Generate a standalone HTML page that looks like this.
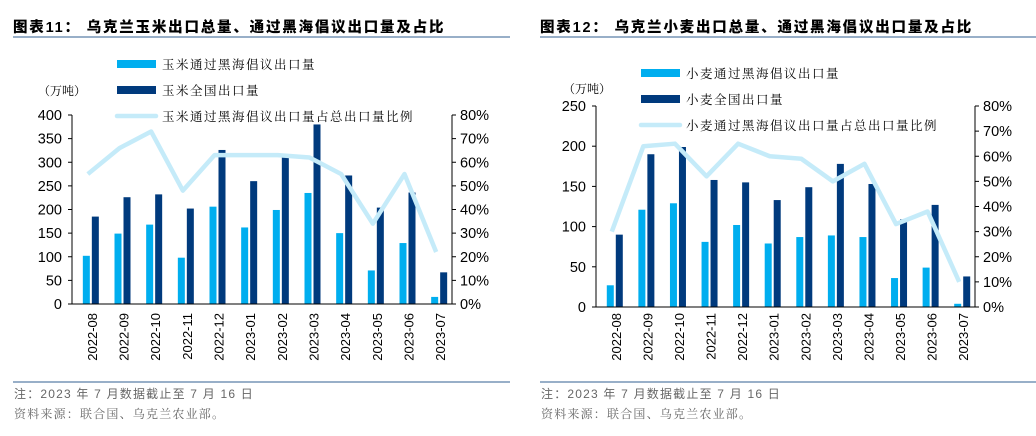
<!DOCTYPE html>
<html><head><meta charset="utf-8"><style>
body{margin:0;background:#fff;width:1036px;height:436px;overflow:hidden}
svg{display:block}
text{font-family:"Liberation Sans","Noto Sans CJK SC",sans-serif}
.cn{font-family:"Noto Serif CJK SC","Liberation Serif",serif}
</style></head><body>
<svg id="s" width="1036" height="436" xmlns="http://www.w3.org/2000/svg">
<text x="13" y="32" font-size="14.5" font-weight="900" letter-spacing="1.8" fill="#000">图表11：  乌克兰玉米出口总量、通过黑海倡议出口量及占比</text>
<line x1="13" y1="37" x2="510" y2="37" stroke="#5b7fa6" stroke-width="1.2"/>
<text x="540" y="32" font-size="14.5" font-weight="900" letter-spacing="1.8" fill="#000">图表12：  乌克兰小麦出口总量、通过黑海倡议出口量及占比</text>
<line x1="540" y1="37" x2="1036" y2="37" stroke="#5b7fa6" stroke-width="1.2"/>
<line x1="13" y1="382" x2="510" y2="382" stroke="#5b7fa6" stroke-width="1.2"/>
<line x1="540" y1="382" x2="1036" y2="382" stroke="#5b7fa6" stroke-width="1.2"/>
<g font-size="12" fill="#666" letter-spacing="1.2">
<text x="14" y="398">注：2023 年 7 月数据截止至 7 月 16 日</text>
<text x="14" y="418" class="cn">资料来源：联合国、乌克兰农业部。</text>
<text x="541" y="398">注：2023 年 7 月数据截止至 7 月 16 日</text>
<text x="541" y="418" class="cn">资料来源：联合国、乌克兰农业部。</text>
</g>
<g id="g"></g>
</svg>
<script>
const NS="http://www.w3.org/2000/svg",g=document.getElementById('g');
function el(t,a,txt){const e=document.createElementNS(NS,t);for(const k in a)e.setAttribute(k,a[k]);if(txt!==undefined)e.textContent=txt;g.appendChild(e);return e;}
const cats=["2022-08","2022-09","2022-10","2022-11","2022-12","2023-01","2023-02","2023-03","2023-04","2023-05","2023-06","2023-07"];
function chart(o){
 const {x0,x1,y0,yTop,max,step,light,dark,pct}=o;
 const cw=(x1-x0)/12,sc=(y0-yTop)/max;
 for(let i=0;i<12;i++){const c=x0+cw*(i+0.5);
  el('rect',{x:c-5,y:y0-light[i]*sc,width:7,height:light[i]*sc,fill:'#00aeef'});
  el('rect',{x:c+4,y:y0-dark[i]*sc,width:7,height:dark[i]*sc,fill:'#003a7d'});
  el('text',{x:0,y:0,'font-size':13,'text-anchor':'end',transform:`translate(${c+9},313) rotate(-90)`},cats[i]);
 }
 let p=pct.map((v,i)=>`${x0+cw*(i+0.5)},${y0-v/80*(y0-yTop)}`).join(' ');
 el('polyline',{points:p,fill:'none',stroke:'#c5ebf9','stroke-width':4.5,'stroke-linejoin':'round'});
 el('line',{x1:x0,y1:yTop,x2:x0,y2:y0,stroke:'#000'});
 el('line',{x1:x1,y1:yTop,x2:x1,y2:y0,stroke:'#000'});
 el('line',{x1:x0,y1:y0,x2:x1,y2:y0,stroke:'#000'});
 for(let v=0;v<=max;v+=step){const y=y0-v*sc;
  el('line',{x1:x0-4,y1:y,x2:x0,y2:y,stroke:'#000'});
  el('text',{x:x0-10,y:y+5,'font-size':14.5,'text-anchor':'end'},v);}
 for(let v=0;v<=80;v+=10){const y=y0-v/80*(y0-yTop);
  el('line',{x1:x1,y1:y,x2:x1+4,y2:y,stroke:'#000'});
  el('text',{x:x1+8,y:y+5,'font-size':14.5},v+'%');}
 const L=o.leg;
 el('rect',{x:L.x,y:L.y-4,width:39,height:8,fill:'#00aeef'});
 el('rect',{x:L.x,y:L.y+26-4,width:39,height:8,fill:'#003a7d'});
 el('line',{x1:L.x,y1:L.y+52,x2:L.x+39,y2:L.y+52,stroke:'#c5ebf9','stroke-width':4.5,'stroke-linecap':'round'});
 L.t.forEach((s,i)=>el('text',{x:L.x+45,y:L.y+5+26*i,'font-size':12.5,'letter-spacing':'1.5',class:'cn'},s));
 el('text',{x:o.ux,y:o.uy,'font-size':12,class:'cn'},'（万吨）');
}
chart({x0:72,x1:452,y0:304,yTop:115,max:400,step:50,
 light:[102,149,168,98,206,162,199,235,150,71,129,15],
 dark:[185,226,232,202,326,260,310,380,272,204,236,67],
 pct:[55,66,73,48,63,63,63,62,55,34,55,22],
 leg:{x:117,y:64,t:["玉米通过黑海倡议出口量","玉米全国出口量","玉米通过黑海倡议出口量占总出口量比例"]},ux:38,uy:95});
chart({x0:596,x1:975,y0:307,yTop:106,max:250,step:50,
 light:[27,121,129,81,102,79,87,89,87,36,49,4],
 dark:[90,190,199,158,155,133,149,178,153,109,127,38],
 pct:[30,64,65,52,65,60,59,50,57,33,38,10],
 leg:{x:641,y:73,t:["小麦通过黑海倡议出口量","小麦全国出口量","小麦通过黑海倡议出口量占总出口量比例"]},ux:563,uy:93});
</script>
</body></html>
